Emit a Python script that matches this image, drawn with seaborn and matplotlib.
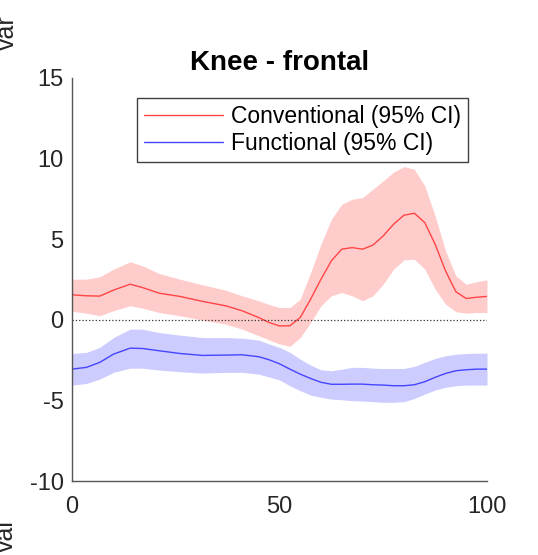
import numpy as np
import pandas as pd
import matplotlib
matplotlib.use('Agg')
import matplotlib.pyplot as plt
import seaborn as sns

# values (percent of cycle vs angle)
x_pct = [0, 3.5, 6.7, 10, 14, 17, 21, 26, 31.5, 37, 41, 45, 47.5,
         50, 52.5, 55, 57.5, 60, 62.5, 65, 67.5, 70, 72.5, 75, 77.5,
         80, 82.5, 85, 87.5, 90, 92.5, 95, 97.5, 100]

conv_mean = [1.55, 1.49, 1.47, 1.84, 2.21, 2.0, 1.65, 1.45, 1.14, 0.87, 0.56, 0.14, -0.17,
             -0.38, -0.37, 0.14, 1.28, 2.52, 3.66, 4.38, 4.48, 4.38, 4.63, 5.21, 5.93,
             6.49, 6.61, 6.03, 4.69, 3.04, 1.74, 1.32, 1.40, 1.45]
conv_upper = [2.52, 2.52, 2.67, 3.14, 3.6, 3.35, 2.87, 2.52, 2.17, 1.84, 1.49, 1.18, 0.95,
              0.76, 0.76, 1.28, 2.93, 4.69, 6.24, 7.17, 7.48, 7.58, 8.10, 8.62, 9.17,
              9.50, 9.34, 8.31, 6.45, 4.28, 2.73, 2.21, 2.36, 2.48]
conv_lower = [0.52, 0.41, 0.25, 0.56, 0.87, 0.72, 0.45, 0.25, -0.02, -0.27, -0.58, -0.99, -1.25,
              -1.50, -1.65, -1.10, -0.17, 0.87, 1.49, 1.69, 1.49, 1.18, 1.49, 2.21, 3.14,
              3.72, 3.76, 3.14, 1.90, 0.97, 0.50, 0.41, 0.45, 0.45]

func_mean = [-3.06, -2.95, -2.64, -2.13, -1.76, -1.78, -1.92, -2.09, -2.21, -2.19, -2.17, -2.29, -2.48,
             -2.73, -3.06, -3.37, -3.64, -3.88, -4.0, -4.0, -3.99, -3.99, -4.03, -4.05, -4.09,
             -4.09, -4.03, -3.84, -3.57, -3.33, -3.16, -3.10, -3.06, -3.06]
func_upper = [-2.09, -2.02, -1.71, -1.10, -0.58, -0.58, -0.79, -0.95, -1.10, -1.10, -1.14, -1.26, -1.5,
              -1.71, -2.02, -2.44, -2.81, -3.10, -3.16, -3.06, -2.95, -2.95, -3.0, -3.02, -3.02,
              -3.02, -2.89, -2.64, -2.40, -2.23, -2.13, -2.09, -2.07, -2.07]
func_lower = [-4.05, -3.95, -3.68, -3.26, -3.0, -3.0, -3.12, -3.22, -3.31, -3.26, -3.26, -3.37, -3.55,
              -3.73, -4.09, -4.40, -4.67, -4.81, -4.92, -4.96, -5.02, -5.04, -5.08, -5.12, -5.12,
              -5.08, -4.88, -4.61, -4.36, -4.19, -4.09, -4.05, -4.05, -4.05]

labels = ['Conventional (95% CI)', 'Functional (95% CI)']
y_ticks = [-10, -5, 0, 5, 10, 15]
x_ticks = [0, 50, 100]

sns.set_style('white')
plt.rcParams['font.family'] = ['Liberation Sans', 'DejaVu Sans']
plt.rcParams['axes.unicode_minus'] = False

df = pd.DataFrame({
    'x': x_pct * 2,
    'y': conv_mean + func_mean,
    'group': [labels[0]] * len(x_pct) + [labels[1]] * len(x_pct),
})

fig = plt.figure(figsize=(5.38, 5.55), dpi=100)
ax = fig.add_axes([72 / 538, 1 - 481 / 555, 415 / 538, 403 / 555])

# bands first, then the mean lines on top
ax.fill_between(x_pct, conv_lower, conv_upper, color='red', alpha=0.2, linewidth=0)
ax.fill_between(x_pct, func_lower, func_upper, color='blue', alpha=0.2, linewidth=0)
sns.lineplot(data=df, x='x', y='y', hue='group', ax=ax,
             palette={labels[0]: '#ff4545', labels[1]: '#4545ff'}, linewidth=1.0)
ax.axhline(0, color='#333333', linestyle=':', linewidth=0.9)

ax.set_xlim(0, 100)
ax.set_ylim(-10, 15)
ax.set_xticks(x_ticks)
ax.set_yticks(y_ticks)
ax.set_xlabel('')
ax.set_ylabel('')
ax.tick_params(direction='in', length=4, width=1, color='#555555', labelcolor='#262626', labelsize=17)
ax.tick_params(axis='x', pad=11)
ax.tick_params(axis='y', pad=6)
for side in ['top', 'right']:
    ax.spines[side].set_visible(False)
for side in ['left', 'bottom']:
    ax.spines[side].set_color('#555555')
    ax.spines[side].set_linewidth(1.0)

ax.set_title('Knee - frontal', fontsize=20, fontweight='bold', pad=6, color='black')

handles, _ = ax.get_legend_handles_labels()
leg = ax.legend(handles=handles, labels=labels, loc='upper left',
                bbox_to_anchor=(137 / 538, 1 - 98 / 555), bbox_transform=fig.transFigure,
                borderaxespad=0, fontsize=16.5, handlelength=3.45, handletextpad=0.35,
                labelspacing=0.2, borderpad=0.3, fancybox=False, framealpha=1)
leg.get_frame().set_edgecolor('#404040')
leg.get_frame().set_linewidth(1.0)
for t in leg.get_texts():
    t.set_color('black')

# cut-off y labels of the neighbouring panels
fig.text(14 / 538, 1 - 50 / 555, 'var', rotation=90, rotation_mode='anchor',
         ha='left', va='baseline', fontsize=18, color='#262626')
fig.text(13 / 538, 1 - 552 / 555, 'val', rotation=90, rotation_mode='anchor',
         ha='left', va='baseline', fontsize=18, color='#262626')

fig.savefig('out.png', dpi=100)
